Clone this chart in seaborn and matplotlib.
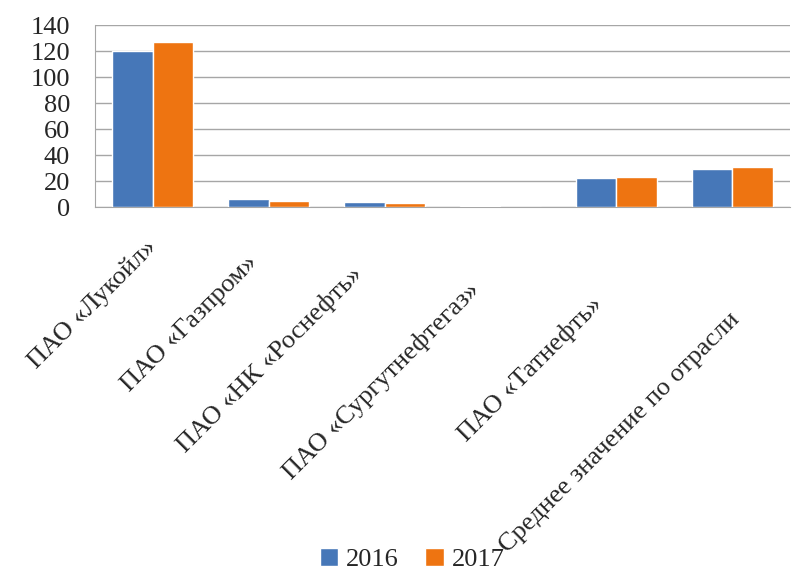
import numpy as np
import pandas as pd
import seaborn as sns
import matplotlib.pyplot as plt
from matplotlib.transforms import ScaledTranslation

# -------------------------------
# Data
# -------------------------------
companies = ['ПАО «Лукойл»', 'ПАО «Газпром»', 'ПАО «НК «Роснефть»',
             'ПАО «Сургутнефтегаз»', 'ПАО «Татнефть»', 'Среднее значение по отрасли']
years = ['2016', '2017']
values_2016 = [120, 6, 4, 0.5, 22, 29]
values_2017 = [127, 5, 3, 0.3, 23, 31]
yticks = [0, 20, 40, 60, 80, 100, 120, 140]

df = pd.DataFrame({
    'company': companies * 2,
    'year': ['2016'] * len(companies) + ['2017'] * len(companies),
    'value': values_2016 + values_2017,
})

# -------------------------------
# Style
# -------------------------------
sns.set_style('white')
plt.rcParams['font.family'] = ['Liberation Serif', 'DejaVu Serif']

fig = plt.figure(figsize=(8.08, 5.75), dpi=100)
ax = fig.add_axes([95 / 808, 1 - 207 / 575, 695 / 808, 182 / 575])

palette = {'2016': '#4677B8', '2017': '#EE7411'}
sns.barplot(data=df, x='company', y='value', hue='year', palette=palette,
            width=0.7, saturation=1, ax=ax, zorder=3)

ax.set_ylim(0, 140)
ax.set_yticks(yticks)
ax.set_yticklabels([str(t) for t in yticks], fontsize=19)
ax.yaxis.grid(True, color='#A6A6A6', linewidth=1)
ax.set_axisbelow(True)
ax.tick_params(axis='y', length=0, pad=18)

ax.set_xticks(range(len(companies)))
ax.set_xticklabels(companies, rotation=45, ha='right', rotation_mode='anchor', fontsize=19)
ax.tick_params(axis='x', length=0, pad=8)
ax.set_xticks(np.arange(-0.5, len(companies), 1), minor=True)
ax.tick_params(axis='x', which='minor', length=6, color='#A6A6A6')

# shift labels a bit to follow the sloping floor of the original 3-D chart
shift_x = [-8, -22, -34, -32, -25, -4]
shift_y = [-18, -33, -45, -60, -75, -90]
for lbl, dx, dy in zip(ax.get_xticklabels(), shift_x, shift_y):
    lbl.set_transform(lbl.get_transform() + ScaledTranslation(dx / 100, dy / 100, fig.dpi_scale_trans))

for side in ['top', 'right']:
    ax.spines[side].set_visible(False)
for side in ['left', 'bottom']:
    ax.spines[side].set_color('#A6A6A6')

ax.set_xlabel('')
ax.set_ylabel('')

handles, labels = ax.get_legend_handles_labels()
ax.get_legend().remove()
fig.legend(handles, labels, loc='lower center', bbox_to_anchor=(0.51, -0.035), ncol=2,
           frameon=False, fontsize=19, handlelength=0.7, handleheight=0.7,
           handletextpad=0.3, columnspacing=1.0)

fig.savefig('out.png', dpi=100)
